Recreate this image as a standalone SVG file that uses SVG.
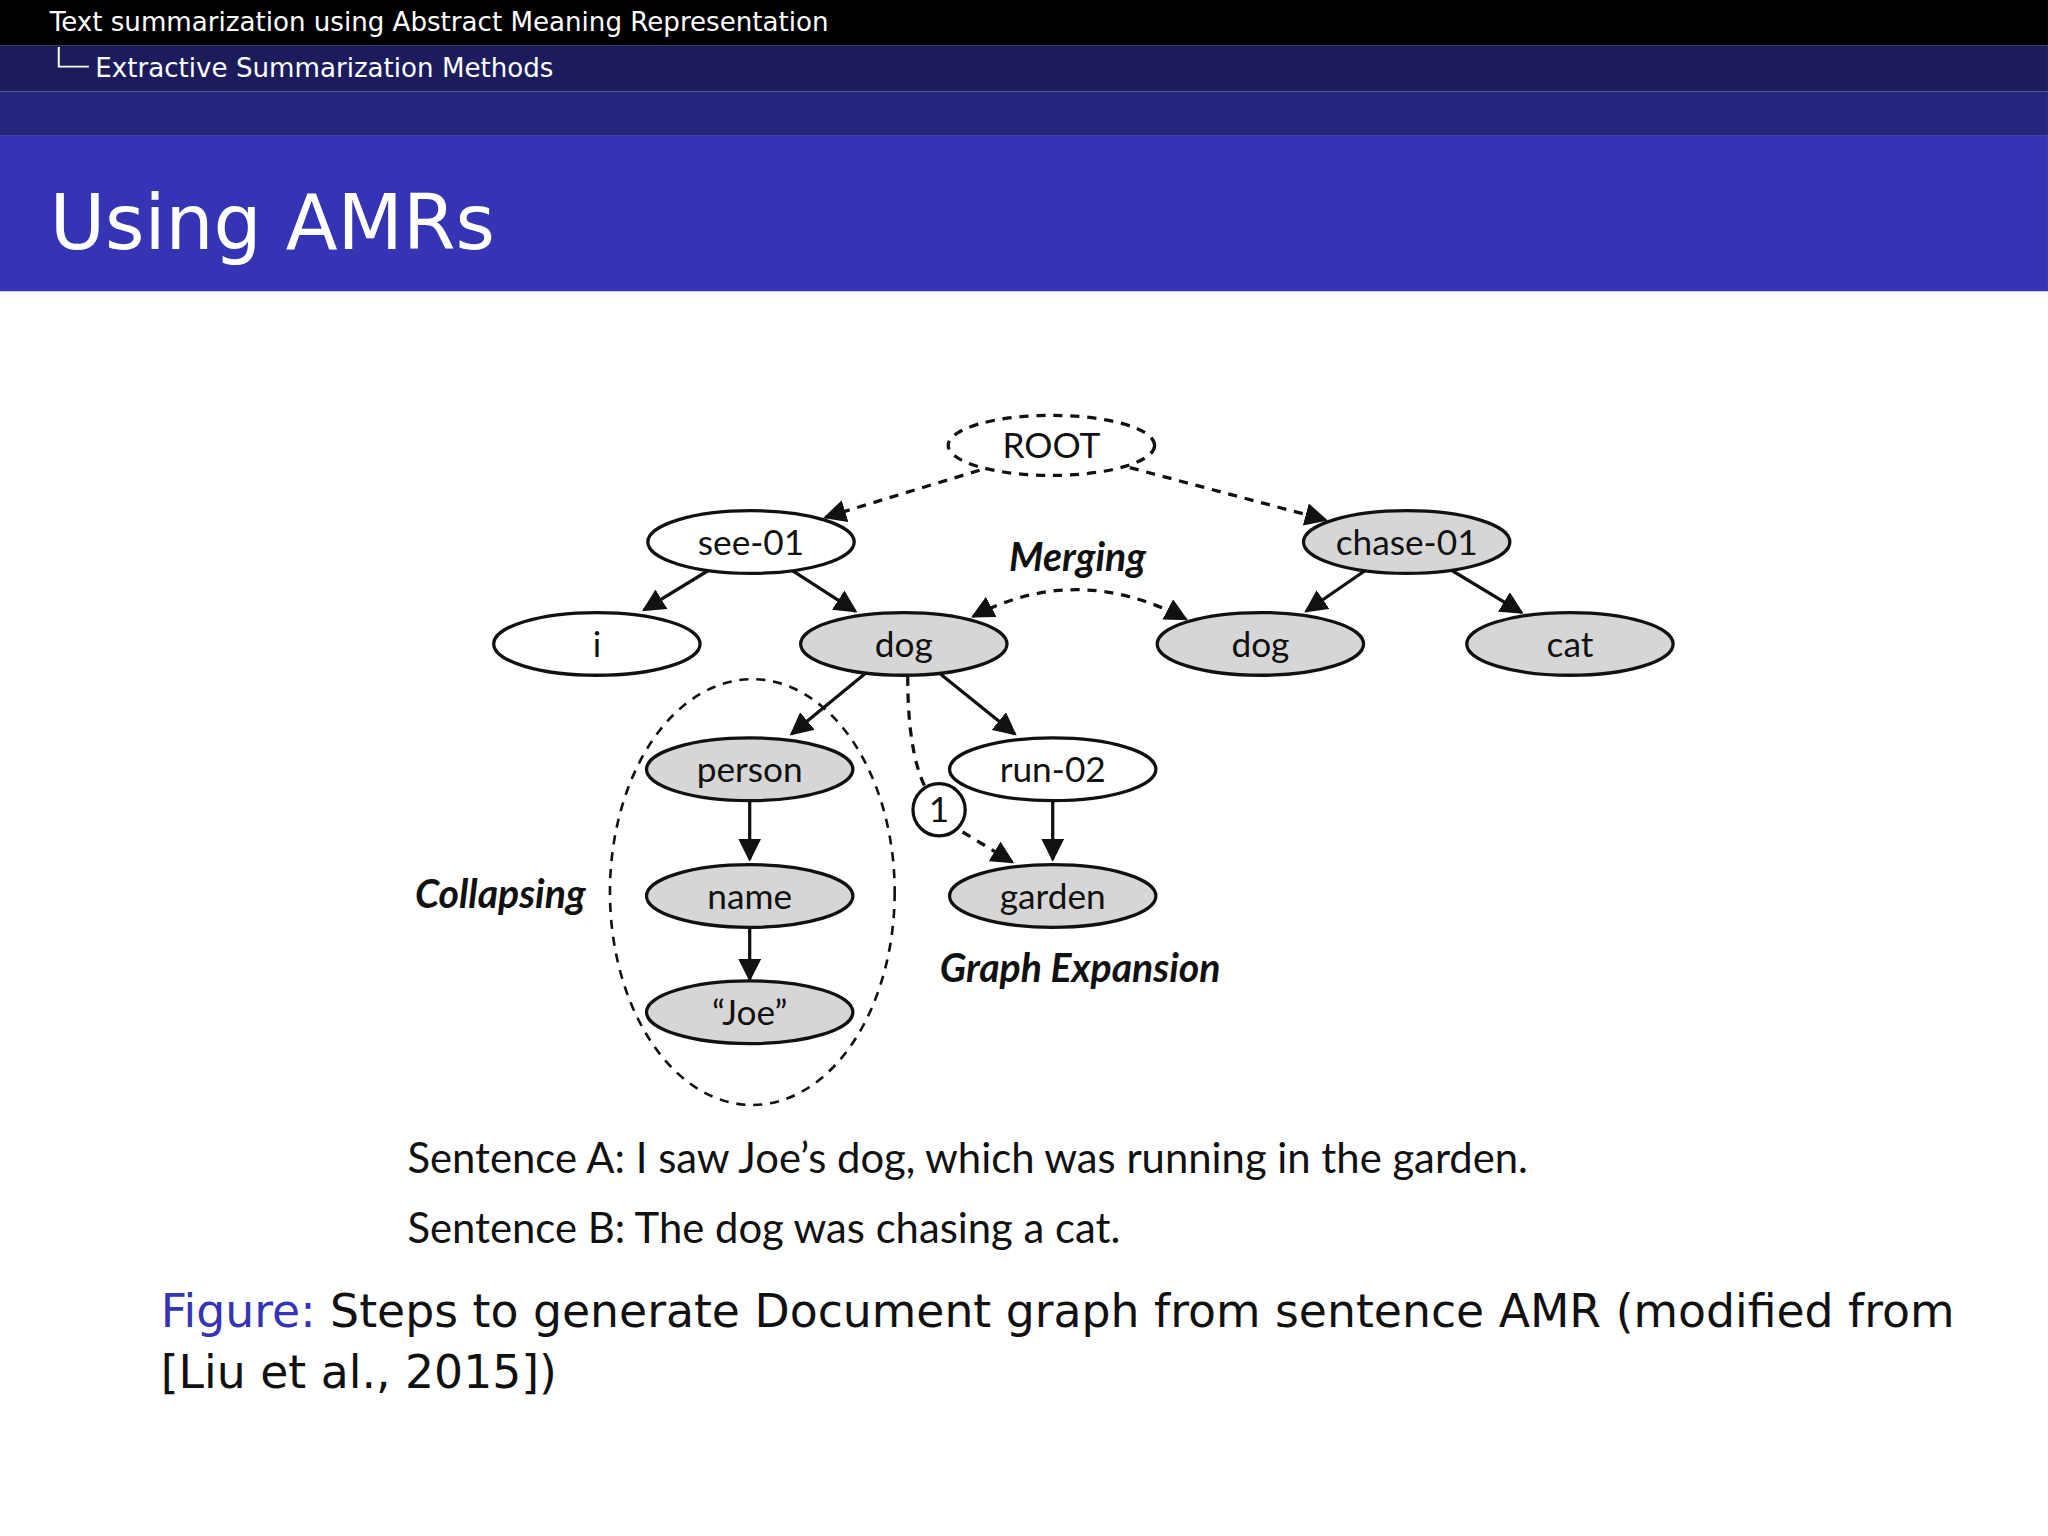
<svg xmlns="http://www.w3.org/2000/svg" width="2048" height="1536" viewBox="0 0 2048 1536">
<style>
.n{stroke:#111;stroke-width:2.5}
.w{fill:#fff}.g{fill:#d6d6d6}
.t{font-family:Lato,"Open Sans",sans-serif;font-size:27px;text-anchor:middle;fill:#111}
.e{stroke:#111;stroke-width:2.5;fill:none;marker-end:url(#a)}
.d{stroke-dasharray:7 6}
.lb{font-family:Lato,"Open Sans",sans-serif;font-size:30px;font-style:italic;font-weight:bold;text-anchor:middle;fill:#111}
.s{font-family:Lato,"Open Sans",sans-serif;font-size:32px;fill:#111}
.h{font-family:"DejaVu Sans",sans-serif;fill:#fff}
.c{font-family:"DejaVu Sans",sans-serif;font-size:35px;fill:#111}
</style>
<defs>
<marker id="a" viewBox="0 0 10 10" refX="9" refY="5" markerWidth="7" markerHeight="7" orient="auto-start-reverse"><path d="M0,0L10,5L0,10z" fill="#111"/></marker>
</defs>
<g transform="scale(1.3061)">
<rect width="1568" height="1176" fill="#fff"/>
<rect width="1568" height="35" fill="#000"/>
<rect y="35" width="1568" height="35" fill="#1c1c5c"/>
<rect y="70" width="1568" height="34" fill="#26267f"/>
<rect y="104" width="1568" height="119" fill="#3434b4"/>
<text class="h" x="38" y="24" font-size="20">Text summarization using Abstract Meaning Representation</text>
<path d="M45,36V51H68" stroke="#fff" stroke-width="1.5" fill="none"/>
<text class="h" x="73" y="59" font-size="20">Extractive Summarization Methods</text>
<text class="h" x="38" y="191" font-size="58">Using AMRs</text>
<g id="connectors">
<path class="e d" d="M750,360L632,396"/>
<path class="e d" d="M865,358L1015,398"/>
<path class="e" d="M542,437L493,467"/>
<path class="e" d="M607,437L655,468"/>
<path class="e" d="M1045,437L1000,468"/>
<path class="e" d="M1112,437L1165,469"/>
<path class="e" d="M662,516L606,562"/>
<path class="e" d="M720,516L777,562"/>
<path class="e" d="M806,613L806,658"/>
<path class="e" d="M574,613L574,658"/>
<path class="e" d="M574,710L574,750"/>
<path class="n d" fill="none" d="M695,518Q695,575 708,602"/>
<path class="e d" d="M737,637L775,660"/>
<path class="e d" style="marker-start:url(#a)" d="M745,472Q825,430 908,474"/>
</g>
<ellipse id="collapse" cx="576" cy="683" rx="109" ry="163" fill="none" stroke="#111" stroke-width="2" stroke-dasharray="7 6"/>
<g id="root"><ellipse class="n w d" cx="805" cy="341" rx="79" ry="23"/><text class="t" x="805" y="351">ROOT</text></g>
<g id="see01"><ellipse class="n w" cx="575" cy="415" rx="79" ry="24"/><text class="t" x="575" y="425">see-01</text></g>
<g id="chase01"><ellipse class="n g" cx="1077" cy="415" rx="79" ry="24"/><text class="t" x="1077" y="425">chase-01</text></g>
<g id="i"><ellipse class="n w" cx="457" cy="493" rx="79" ry="24"/><text class="t" x="457" y="503">i</text></g>
<g id="dogA"><ellipse class="n g" cx="692" cy="493" rx="79" ry="24"/><text class="t" x="692" y="503">dog</text></g>
<g id="dogB"><ellipse class="n g" cx="965" cy="493" rx="79" ry="24"/><text class="t" x="965" y="503">dog</text></g>
<g id="cat"><ellipse class="n g" cx="1202" cy="493" rx="79" ry="24"/><text class="t" x="1202" y="503">cat</text></g>
<g id="person"><ellipse class="n g" cx="574" cy="589" rx="79" ry="24"/><text class="t" x="574" y="599">person</text></g>
<g id="run02"><ellipse class="n w" cx="806" cy="589" rx="79" ry="24"/><text class="t" x="806" y="599">run-02</text></g>
<g id="name"><ellipse class="n g" cx="574" cy="686" rx="79" ry="24"/><text class="t" x="574" y="696">name</text></g>
<g id="garden"><ellipse class="n g" cx="806" cy="686" rx="79" ry="24"/><text class="t" x="806" y="696">garden</text></g>
<g id="joe"><ellipse class="n g" cx="574" cy="775" rx="79" ry="24"/><text class="t" x="574" y="785">“Joe”</text></g>
<g id="one"><circle class="n w" cx="719" cy="620" r="20"/><text class="t" x="719" y="629" font-size="24">1</text></g>
<text class="lb" x="825" y="437">Merging</text>
<text class="lb" x="383" y="695">Collapsing</text>
<text class="lb" x="827" y="752">Graph Expansion</text>
<text class="s" x="312" y="898">Sentence A:  I saw Joe’s dog, which was running in the garden.</text>
<text class="s" x="312" y="952">Sentence B:  The dog was chasing a cat.</text>
<text class="c" x="123" y="1016"><tspan fill="#3434b4">Figure:</tspan> Steps to generate Document graph from sentence AMR (modified from</text>
<text class="c" x="123" y="1063">[Liu et al., 2015])</text>
</g>
</svg>
